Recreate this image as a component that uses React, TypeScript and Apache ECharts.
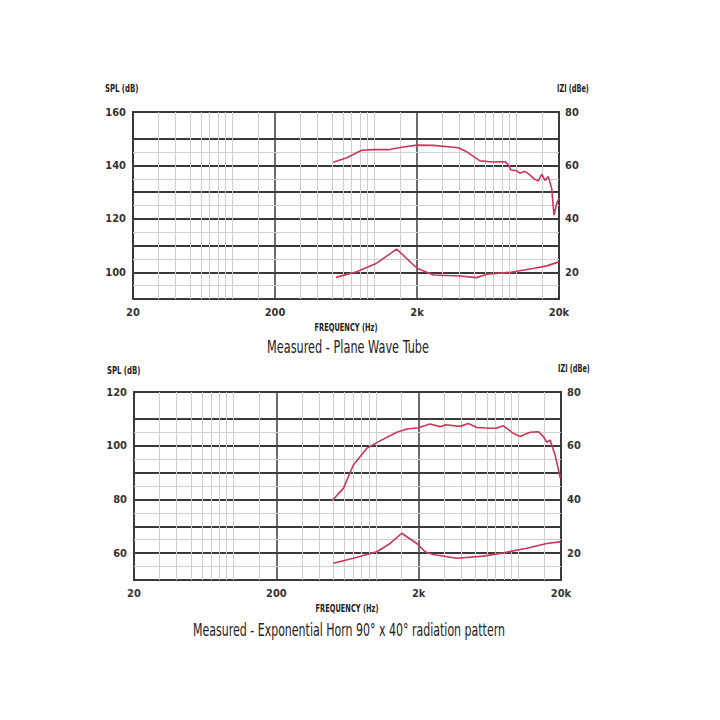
import React, { useEffect, useRef } from "react";
import * as echarts from "echarts";

// ---- Data ----
const F0 = 20;
const decadeLabels = ["20", "200", "2k", "20k"];
const minorFreqs = [30, 40, 50, 60, 70, 80, 90, 100, 150, 300, 400, 500, 600, 700, 800, 900, 1000, 1500, 3000, 4000, 5000, 6000, 7000, 8000, 9000, 10000, 15000];

// Plane wave tube — SPL (dB, left axis)
const pwtSplFreq = [515, 640, 816, 984, 1256, 1560, 2000, 2607, 3908, 4478, 5556, 6892, 8336, 8790, 9150, 10074, 10620, 11530, 12500, 13420, 14300, 15100, 15940, 16820, 17760, 18440, 19270, 20000];
const pwtSplDb = [141.2, 142.9, 145.7, 145.9, 145.9, 146.8, 147.6, 147.5, 146.6, 145.1, 141.7, 141.3, 141.4, 140.2, 138.3, 138.0, 137.1, 137.8, 136.4, 134.9, 134.2, 136.7, 134.4, 135.8, 131.4, 121.4, 125.8, 127.7];
// Plane wave tube — impedance (dBe, right axis)
const pwtZFreq = [538, 752, 1040, 1438, 2000, 2607, 4018, 5262, 6192, 9150, 13420, 16400, 20000];
const pwtZDbe = [18.1, 20.2, 23.4, 28.7, 21.5, 19.0, 18.6, 18.0, 19.3, 20.0, 21.5, 22.4, 23.9];

// Exponential horn — SPL (dB, left axis)
const hornSplFreq = [490, 592, 695, 863, 1071, 1403, 1650, 1990, 2405, 2828, 3100, 3604, 3900, 4468, 5120, 6352, 7000, 7878, 9260, 10320, 10900, 12130, 13870, 15060, 15890, 16760, 18170, 19800];
const hornSplDb = [79.4, 84.1, 92.8, 99.0, 101.8, 105.0, 106.2, 106.7, 108.1, 107.1, 107.8, 107.4, 107.2, 108.3, 106.8, 106.5, 106.5, 107.4, 104.6, 103.4, 104.0, 105.0, 105.2, 103.4, 101.3, 102.1, 96.5, 87.9];
// Exponential horn — impedance (dBe, right axis)
const hornZFreq = [503, 695, 1016, 1260, 1521, 1940, 2220, 2520, 3710, 5700, 7460, 11500, 15890, 19800];
const hornZDbe = [16.2, 18.1, 20.5, 23.6, 27.4, 23.6, 20.5, 19.5, 18.1, 18.9, 19.9, 21.8, 23.6, 24.2];

const pwtMinorDb = [95, 105, 115, 125, 135, 145];
const hornMinorDb = [55, 65, 75, 85, 95, 105];

const lx = (f: number) => Math.log10(f / F0);
const pairs = (fs: number[], vs: number[]) => fs.map((f, i) => [lx(f), vs[i]]);

const FONT = "'DejaVu Sans Condensed', 'Liberation Sans Narrow', sans-serif";
const RED = "#c9385a";
const DARK = "#3a3a3a";
const LIGHT = "#cfcfcf";

export default function App() {
  const ref = useRef<HTMLDivElement>(null);
  useEffect(() => {
    if (!ref.current) return;
    const chart = echarts.init(ref.current, undefined, { renderer: "svg" });

    const grids = [
      { left: 133, top: 112, width: 426, height: 187 },
      { left: 134, top: 392, width: 427, height: 188 },
    ];
    const ranges = [
      { min: 90, max: 160 },
      { min: 50, max: 120 },
    ];

    const labelStyle = {
      fontFamily: FONT,
      fontSize: 11,
      fontWeight: "bold",
      color: "#333",
    };

    const xAxes = grids.map((_, gi) => ({
      type: "value",
      gridIndex: gi,
      min: 0,
      max: 3,
      interval: 1,
      axisLine: { show: true, lineStyle: { color: DARK, width: 2 } },
      axisTick: { show: false },
      axisLabel: {
        margin: 8,
        ...labelStyle,
        formatter: (v: number) => decadeLabels[Math.round(v)] ?? "",
      },
      splitLine: { show: true, lineStyle: { color: DARK, width: 1.5 } },
    }));

    const yAxes: any[] = [];
    grids.forEach((_, gi) => {
      yAxes.push({
        type: "value",
        gridIndex: gi,
        position: "left",
        min: ranges[gi].min,
        max: ranges[gi].max,
        interval: 10,
        axisLine: { show: true, lineStyle: { color: DARK, width: 2 } },
        axisTick: { show: false },
        axisLabel: {
          margin: 7,
          ...labelStyle,
          formatter: (v: number) => (v % 20 === 0 ? String(v) : ""),
        },
        splitLine: { show: true, lineStyle: { color: DARK, width: 2 } },
      });
      yAxes.push({
        type: "value",
        gridIndex: gi,
        position: "right",
        min: 10,
        max: 80,
        interval: 10,
        axisLine: { show: true, lineStyle: { color: DARK, width: 2 } },
        axisTick: { show: false },
        axisLabel: {
          margin: 6,
          ...labelStyle,
          formatter: (v: number) => (v % 20 === 0 ? String(v) : ""),
        },
        splitLine: { show: false },
      });
    });

    const minorSeries = (gi: number, minorDb: number[]) => ({
      type: "line",
      xAxisIndex: gi,
      yAxisIndex: gi * 2,
      data: [],
      silent: true,
      z: 1,
      markLine: {
        silent: true,
        symbol: ["none", "none"],
        label: { show: false },
        lineStyle: { color: LIGHT, width: 1, type: "solid" },
        emphasis: { disabled: true },
        data: [
          ...minorFreqs.map((f) => ({ xAxis: lx(f) })),
          ...minorDb.map((d) => ({ yAxis: d })),
        ],
      },
    });

    const curve = (gi: number, yi: number, data: number[][]) => ({
      type: "line",
      xAxisIndex: gi,
      yAxisIndex: yi,
      data,
      showSymbol: false,
      smooth: false,
      z: 5,
      lineStyle: { color: RED, width: 1.6 },
    });

    const txt = (x: number, y: number, text: string, size: number, align: string, sx: number, weight = "bold") => ({
      type: "text",
      x,
      y,
      scaleX: sx,
      style: {
        text,
        fontFamily: FONT,
        fontSize: size,
        fontWeight: weight,
        fill: "#222",
        textAlign: align,
        textVerticalAlign: "middle",
      },
    });

    chart.setOption({
      animation: false,
      backgroundColor: "#fff",
      grid: grids.map((g) => ({ ...g, show: true, borderColor: DARK, borderWidth: 2, backgroundColor: "transparent" })),
      xAxis: xAxes,
      yAxis: yAxes,
      series: [
        minorSeries(0, pwtMinorDb),
        minorSeries(1, hornMinorDb),
        curve(0, 0, pairs(pwtSplFreq, pwtSplDb)),
        curve(0, 1, pairs(pwtZFreq, pwtZDbe)),
        curve(1, 2, pairs(hornSplFreq, hornSplDb)),
        curve(1, 3, pairs(hornZFreq, hornZDbe)),
      ],
      graphic: [
        txt(105, 88, "SPL (dB)", 11, "left", 0.7),
        txt(557, 88, "IZI (dBe)", 11, "left", 0.66),
        txt(346, 328, "FREQUENCY (Hz)", 10, "center", 0.74),
        txt(348, 347, "Measured - Plane Wave Tube", 17, "center", 0.74, "normal"),
        txt(107, 370, "SPL (dB)", 11, "left", 0.7),
        txt(558, 368, "IZI (dBe)", 11, "left", 0.66),
        txt(347, 609, "FREQUENCY (Hz)", 10, "center", 0.74),
        txt(349, 630, "Measured - Exponential Horn 90° x 40° radiation pattern", 17, "center", 0.72, "normal"),
      ],
    });
    return () => chart.dispose();
  }, []);
  return <div ref={ref} style={{ position: "fixed", left: 0, top: 0, width: 720, height: 720 }} />;
}
